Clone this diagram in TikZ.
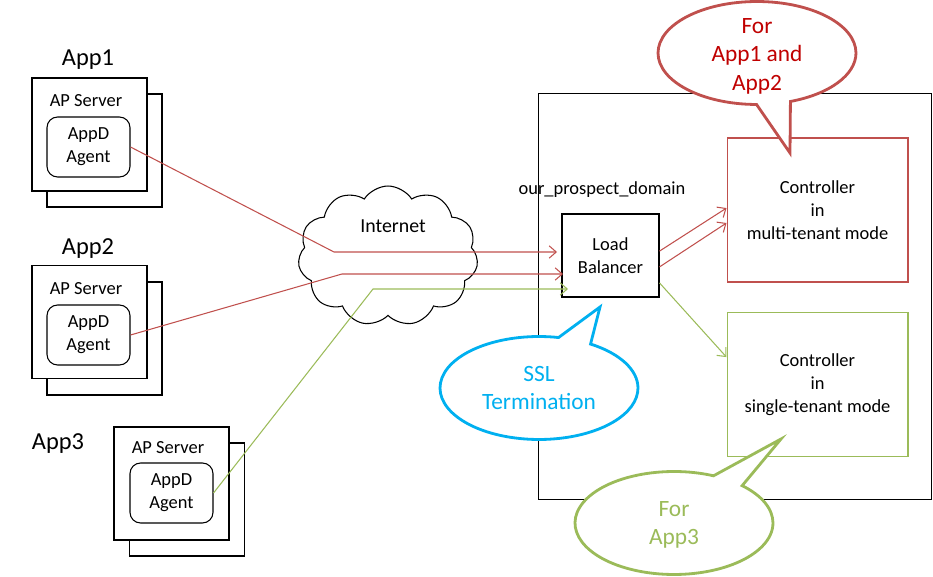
\documentclass[tikz,border=0pt]{standalone}
\usepackage{fontspec}
\setmainfont{Carlito}
\usetikzlibrary{arrows.meta,shapes.symbols,shapes.callouts}
\definecolor{lnred}{HTML}{C0504D}
\definecolor{txred}{HTML}{C00000}
\definecolor{lngreen}{HTML}{9BBB59}
\definecolor{sslblue}{HTML}{00B0F0}
\begin{document}
\begin{tikzpicture}[
        x=0.02cm, y=-0.02cm,
        every node/.style={font=\fontsize{10.5}{13}\selectfont},
        applabel/.style={font=\fontsize{13.9}{16}\selectfont},
        srvback/.style={rectangle, draw, line width=0.6pt, minimum width=2.3cm, minimum height=2.26cm},
        srvfront/.style={srvback, fill=white},
        agent/.style={rectangle, draw, line width=0.6pt, rounded corners=6pt, minimum width=1.66cm, minimum height=1.2cm, align=center, inner sep=0pt},
        ctrl/.style={rectangle, draw, line width=0.6pt, minimum width=3.62cm, minimum height=2.88cm, align=center},
        bubble/.style={ellipse callout, draw, fill=white, line width=1.6pt, minimum width=3.96cm, minimum height=2.06cm, inner sep=0pt, callout pointer arc=20},
        bubbletext/.style={align=center, font=\fontsize{13.3}{16.2}\selectfont},
        link/.style={line width=0.6pt, -{Straight Barb[length=4pt,width=7pt]}}
    ]
        \useasboundingbox (0,0) rectangle (933,577);

        % domain box
        \node[rectangle, draw, line width=0.6pt, minimum width=7.88cm, minimum height=8.14cm] (domain) at (735,296.5) {};
        \node (dname) at (602,190) {our\_prospect\_domain};

        % application servers
        \node[applabel] (app1) at (88,60) {App1};
        \node[srvback] (back1) at (104.5,150.5) {};
        \node[srvfront] (srv1) at (89.5,134.5) {};
        \node (aps1) at (86,101) {AP Server};
        \node[agent] (agent1) at (88.5,147) {AppD\\Agent};

        \node[applabel] (app2) at (88,249) {App2};
        \node[srvback] (back2) at (104.5,338.5) {};
        \node[srvfront] (srv2) at (89.5,322) {};
        \node (aps2) at (86,289) {AP Server};
        \node[agent] (agent2) at (88.5,335) {AppD\\Agent};

        \node[applabel] (app3) at (58,444) {App3};
        \node[srvback] (back3) at (187,499.5) {};
        \node[srvfront] (srv3) at (171.5,483.5) {};
        \node (aps3) at (168,448) {AP Server};
        \node[agent] (agent3) at (171.5,493) {AppD\\Agent};

        % internet
        \node[cloud, draw, line width=0.6pt, cloud puffs=11, cloud puff arc=115, aspect=1.3, minimum width=3.6cm, minimum height=2.8cm] (cloud) at (388,256) {};
        \node[font=\fontsize{11.3}{13}\selectfont] (inet) at (393,226) {Internet};

        % load balancer and controllers
        \node[rectangle, draw, line width=0.6pt, minimum width=1.94cm, minimum height=1.66cm, align=center] (lb) at (610.5,255.5) {Load\\Balancer};
        \node[ctrl, draw=lnred] (ctrl1) at (817.5,210) {Controller\\in\\multi-tenant mode};
        \node[ctrl, draw=lngreen] (ctrl2) at (817.5,384.5) {Controller\\in\\single-tenant mode};

        \coordinate (bend1) at (334,252);
        \coordinate (in1) at (557,252);
        \coordinate (bend2) at (342,274);
        \coordinate (in2) at (563,274);
        \coordinate (bend3) at (373,289);
        \coordinate (in3) at (568,289);

        % connections
        \draw[link, lnred] (agent1.east) -- (bend1) -- (in1);
        \draw[link, lnred] (agent2.east) -- (bend2) -- (in2);
        \draw[link, lngreen] (agent3.east) -- (bend3) -- (in3);
        \draw[link, lnred] ([yshift=2.5pt]lb.east) -- ([yshift=1.1pt]ctrl1.west);
        \draw[link, lnred] ([yshift=-6.5pt]lb.east) -- ([yshift=-7.4pt]ctrl1.west);
        \draw[link, lngreen] ([yshift=-15.6pt]lb.east) -- ([yshift=15.6pt]ctrl2.west);

        % callouts
        \node[bubble, draw=lnred, callout absolute pointer={(790,153)}] (multi) at (757,53) {};
        \node[bubbletext, text=txred] (multitext) at (757,56) {For\\App1 and\\App2};
        \node[bubble, draw=sslblue, callout absolute pointer={(600,307)}] (ssl) at (539,388) {};
        \node[bubbletext, text=sslblue] (ssltext) at (539,388) {SSL\\Termination};
        \node[bubble, draw=lngreen, callout absolute pointer={(781,439)}] (single) at (674,523) {};
        \node[bubbletext, text=lngreen] (singletext) at (674,525) {For\\App3};
    \end{tikzpicture}
\end{document}
